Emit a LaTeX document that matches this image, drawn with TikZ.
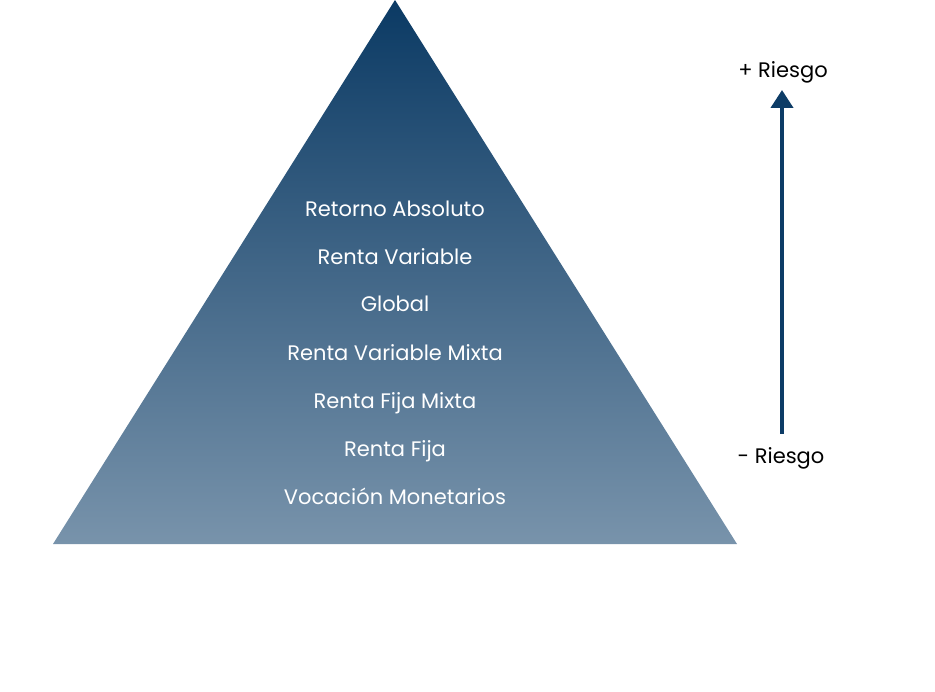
\documentclass[tikz,border=0pt]{standalone}
\usepackage{fontspec}
\setmainfont{Poppins}
\usetikzlibrary{arrows.meta}
\definecolor{navytop}{HTML}{0B3A64}
\definecolor{navybottom}{HTML}{7893AB}
\definecolor{arrowblue}{HTML}{0D3C66}
\tikzset{
    level/.style={text=white, font=\fontsize{21}{24}\selectfont, anchor=base},
    risk/.style={text=black, font=\fontsize{21}{24}\selectfont, anchor=base}
}
\begin{document}
\begin{tikzpicture}[x=1pt,y=-1pt]
                    \useasboundingbox (0,0) rectangle (935,692);
                    \coordinate (top) at (395,0);
                    \coordinate (left) at (53,544);
                    \coordinate (right) at (737,544);
                    \coordinate (up) at (782,90);
                    \coordinate (down) at (782,434);
                    % pyramid with vertical gradient
                    \shade[top color=navytop, bottom color=navybottom] (top) -- (left) -- (right) -- cycle;
                    \node[level] (ra) at (395,217) {Retorno Absoluto};
                    \node[level] (rv) at (395,265) {Renta Variable};
                    \node[level] (gl) at (395,312) {Global};
                    \node[level] (rvm) at (395,361) {Renta Variable Mixta};
                    \node[level] (rfm) at (395,409) {Renta Fija Mixta};
                    \node[level] (rf) at (395,457) {Renta Fija};
                    \node[level] (vm) at (395,504) {Vocación Monetarios};
                    % risk axis
                    \draw[line width=4pt,color=arrowblue,-{Triangle[length=18pt,width=22pt]}] (down) -- (up);
                    \node[risk] (plus) at (783,78) {+ Riesgo};
                    \node[risk] (minus) at (781,464) {- Riesgo};
                \end{tikzpicture}
\end{document}
